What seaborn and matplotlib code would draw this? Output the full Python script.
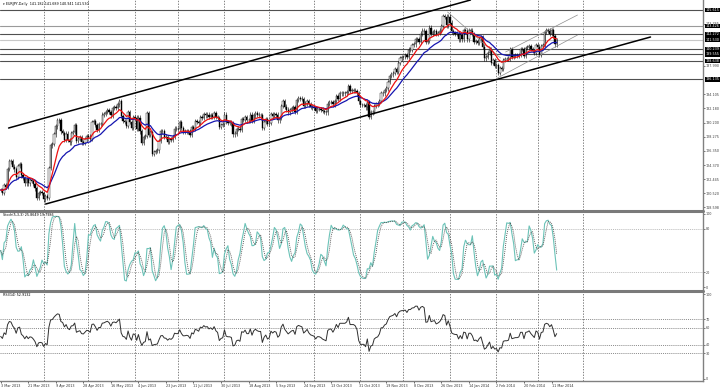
import numpy as np
import pandas as pd
import matplotlib
matplotlib.use("Agg")
import matplotlib.pyplot as plt
import matplotlib.transforms as mtransforms
from matplotlib.lines import Line2D
import seaborn as sns

# EURJPY daily closes, one row per week (Sun, Mon, Tue, Wed, Thu, Fri), 3 Mar 2013 .. 14 Mar 2014
weekly_closes = [
    [121.0, 120.6, 121.7, 121.4, 123.9, 125.0],
    [124.9, 124.2, 123.8, 122.8, 124.3, 124.5],
    [123.0, 122.6, 121.9, 122.5, 121.9, 122.3],
    [122.2, 121.8, 121.2, 119.9, 120.6, 120.7],
    [120.6, 119.7, 120.2, 119.9, 124.0, 127.1],
    [127.3, 128.6, 129.7, 130.6, 130.5, 129.0],
    [128.8, 127.8, 128.7, 127.8, 127.5, 128.8],
    [128.9, 129.9, 127.7, 128.0, 128.2, 127.5],
    [127.4, 127.9, 128.4, 128.3, 128.0, 130.3],
    [130.4, 129.9, 129.2, 130.0, 130.0, 131.3],
    [131.4, 131.7, 131.9, 131.7, 131.2, 132.2],
    [132.3, 132.2, 132.7, 133.2, 131.1, 130.4],
    [130.3, 129.8, 131.6, 130.3, 129.5, 131.0],
    [130.9, 129.4, 130.9, 129.0, 127.4, 128.2],
    [128.4, 131.5, 128.5, 128.9, 125.9, 126.2],
    [126.3, 126.4, 127.7, 129.0, 129.1, 128.3],
    [128.2, 127.6, 128.0, 127.8, 128.2, 129.4],
    [129.3, 129.3, 130.3, 129.5, 129.0, 129.0],
    [129.1, 129.0, 128.5, 129.6, 129.4, 130.4],
    [130.3, 130.1, 131.0, 130.9, 131.4, 131.2],
    [131.3, 131.0, 131.2, 131.0, 131.5, 131.0],
    [130.8, 129.6, 129.9, 130.0, 131.3, 130.3],
    [130.2, 130.2, 130.1, 128.6, 128.7, 129.3],
    [129.4, 129.2, 130.7, 130.6, 131.0, 130.5],
    [130.5, 131.3, 130.4, 131.2, 131.5, 131.3],
    [131.2, 131.2, 129.5, 130.3, 130.7, 130.0],
    [130.2, 131.4, 131.1, 131.4, 131.3, 130.5],
    [130.8, 132.5, 133.2, 132.4, 132.0, 131.6],
    [131.9, 132.2, 132.3, 131.7, 133.3, 133.6],
    [133.5, 133.4, 132.5, 132.8, 133.2, 132.7],
    [132.4, 132.3, 132.2, 131.8, 132.1, 132.1],
    [132.0, 131.8, 131.7, 131.6, 132.8, 133.0],
    [133.0, 132.7, 133.1, 133.8, 133.5, 134.2],
    [134.2, 134.2, 134.2, 134.4, 135.2, 134.6],
    [134.6, 134.6, 134.5, 134.2, 133.1, 132.6],
    [132.6, 132.6, 132.3, 133.0, 131.0, 131.6],
    [131.7, 132.5, 132.7, 132.8, 133.2, 134.2],
    [134.2, 134.7, 134.9, 135.8, 136.6, 136.8],
    [137.0, 137.5, 137.2, 138.4, 139.0, 139.2],
    [139.2, 139.4, 139.2, 140.2, 140.2, 140.8],
    [140.9, 141.6, 141.6, 141.3, 142.4, 142.8],
    [142.7, 141.3, 141.4, 143.2, 142.4, 142.6],
    [142.7, 142.3, 142.5, 142.8, 143.4, 144.8],
    [144.7, 143.5, 144.7, 143.9, 142.7, 142.5],
    [142.4, 142.4, 141.6, 142.2, 141.6, 142.9],
    [142.8, 141.6, 142.8, 142.8, 142.3, 141.3],
    [141.4, 141.1, 141.6, 141.9, 140.6, 139.0],
    [139.2, 139.7, 140.2, 138.4, 138.8, 138.0],
    [138.1, 137.0, 137.7, 137.6, 138.8, 138.9],
    [138.9, 139.0, 140.3, 139.2, 139.3, 139.4],
    [139.4, 139.5, 140.3, 140.3, 139.3, 140.4],
    [140.5, 140.7, 140.3, 140.0, 139.7, 140.8],
    [140.6, 139.5, 140.7, 140.8, 142.6, 142.9],
    [142.8, 142.4, 142.9, 142.1, 140.9, 141.53],
]

date_labels = ["3 Mar 2013", "21 Mar 2013", "9 Apr 2013", "28 Apr 2013", "16 May 2013",
               "4 Jun 2013", "23 Jun 2013", "11 Jul 2013", "30 Jul 2013", "18 Aug 2013",
               "5 Sep 2013", "24 Sep 2013", "13 Oct 2013", "31 Oct 2013", "19 Nov 2013",
               "8 Dec 2013", "26 Dec 2013", "14 Jan 2014", "2 Feb 2014", "20 Feb 2014",
               "11 Mar 2014"]
month_start_bars = [25, 51, 78, 103, 130, 156, 182, 209, 234, 261, 288, 312, 338]

price_ticks = [118.598, 120.520, 122.445, 124.370, 126.350, 128.275, 130.200,
               132.180, 134.105, 137.990, 143.765]
level_prices = [145.615, 143.426, 142.272, 141.530, 140.239, 139.555, 138.638, 136.135]
level_labels = ["145.615", "143.426", "142.272", "141.530", "140.239", "139.555",
                "138.638", "136.135"]

# trend lines: (bar, price) anchors
channel_lines = [((4.6, 129.47), (272.9, 146.98)),
                 ((26.1, 119.07), (377.5, 141.92))]
thin_lines = [((259.6, 145.34), (290.4, 139.05)),
              ((293.3, 139.87), (335.1, 144.93)),
              ((288.6, 136.31), (335.1, 142.19))]

stoch_levels = [80, 20]
rsi_levels = [70, 60, 40, 30]

closes = np.array([c for wk in weekly_closes for c in wk])
bars = np.arange(len(closes))
opens = np.r_[closes[0], closes[:-1]]
wick = 0.3
highs = np.maximum(opens, closes) + wick
lows = np.minimum(opens, closes) - wick

s_close = pd.Series(closes)
ma_fast = s_close.ewm(span=10, adjust=False).mean()
ma_slow = s_close.ewm(span=21, adjust=False).mean()

# Stochastic 5,3,3
hh = pd.Series(highs).rolling(5, min_periods=1).max()
ll = pd.Series(lows).rolling(5, min_periods=1).min()
k_line = 100 * (s_close - ll).rolling(3, min_periods=1).sum() / (hh - ll).rolling(3, min_periods=1).sum()
d_line = k_line.rolling(3, min_periods=1).mean()

# RSI 14, Wilder smoothing, seeded neutral
avg_g, avg_l = 0.3, 0.3
rsi = [50.0]
for dlt in np.diff(closes):
    avg_g = (avg_g * 13 + max(dlt, 0)) / 14
    avg_l = (avg_l * 13 + max(-dlt, 0)) / 14
    rsi.append(100 - 100 / (1 + avg_g / avg_l))
rsi = np.array(rsi)

sns.set_theme(style="white")
plt.rcParams['font.family'] = ['DejaVu Sans']

W, H = 720, 389
fig = plt.figure(figsize=(W / 100, H / 100), dpi=100)
fig.patch.set_facecolor('white')
ax_main = fig.add_axes([0, 1 - 210 / H, 703 / W, 210 / H])
ax_st = fig.add_axes([0, 1 - 290 / H, 703 / W, 78 / H])
ax_rsi = fig.add_axes([0, 1 - 381 / H, 703 / W, 89 / H])

fs = 2.4
grid_kw = dict(color='#505050', lw=0.5, linestyle=(0, (2, 2)), zorder=0)
for ax in (ax_main, ax_st, ax_rsi):
    ax.set_facecolor('white')
    ax.set_xlim(-0.4, 408)
    for sp in ('top', 'left', 'bottom'):
        ax.spines[sp].set_visible(False)
    ax.spines['right'].set_color('#808080')
    ax.spines['right'].set_linewidth(1.0)
    for b in month_start_bars:
        ax.axvline(b, **grid_kw)
    ax.yaxis.tick_right()
    ax.tick_params(axis='y', length=1.5, width=0.5, pad=0.6, labelsize=fs,
                   colors='#404040', direction='out')
    ax.set_xticks([])

# ---- main price panel ----
ax_main.set_ylim(118.255, 146.983)
ax_main.set_yticks(price_ticks)
ax_main.set_yticklabels([f"{p:.3f}" for p in price_ticks])
lbl_tr = mtransforms.blended_transform_factory(ax_main.transAxes, ax_main.transData)
for p, lab in zip(level_prices, level_labels):
    col = '#c8c8c8' if lab == "141.530" else ('#9a9a9a' if lab == "143.426" else '#505050')
    ax_main.axhline(p, color=col, lw=0.8, zorder=1)
    ax_main.text(1.0035, p, lab, transform=lbl_tr, fontsize=fs, color='white',
                 va='center', ha='left', clip_on=False, zorder=6,
                 bbox=dict(boxstyle='square,pad=0.12', fc='black', ec='none'))

for (b0, p0), (b1, p1) in channel_lines:
    ax_main.plot([b0, b1], [p0, p1], color='black', lw=1.1, zorder=4)
for (b0, p0), (b1, p1) in thin_lines:
    ax_main.plot([b0, b1], [p0, p1], color='#8c8c8c', lw=0.5, zorder=4)

up = closes >= opens
ax_main.vlines(bars, lows, highs, color='black', lw=0.4, zorder=2)
ax_main.bar(bars, np.maximum(np.abs(closes - opens), 0.03), bottom=np.minimum(opens, closes),
            width=0.75, color=np.where(up, 'white', 'black'), edgecolor='black',
            linewidth=0.3, zorder=3)
sns.lineplot(x=bars, y=ma_slow.values, ax=ax_main, color='#1515b0', lw=0.9, zorder=4)
sns.lineplot(x=bars, y=ma_fast.values, ax=ax_main, color='#ee1111', lw=0.9, zorder=4)
ax_main.set_ylabel('')
ax_main.text(0.004, 0.99, "\u25be EURJPY,Daily  141.182 141.689 140.941 141.530",
             transform=ax_main.transAxes, fontsize=fs, va='top', ha='left', color='black')

# ---- stochastic panel ----
ax_st.set_ylim(-4.1, 102.7)
ax_st.set_yticks([0, 20, 80, 100])
for lv in stoch_levels:
    ax_st.axhline(lv, color='#a0a0a0', lw=0.5, linestyle=(0, (1.5, 1.5)), zorder=1)
sns.lineplot(x=bars, y=k_line.values, ax=ax_st, color='#6cc3b8', lw=0.8, zorder=3)
sns.lineplot(x=bars, y=d_line.values, ax=ax_st, color='#505050', lw=0.6,
             linestyle=(0, (1.2, 1.2)), zorder=3)
ax_st.set_ylabel('')
ax_st.text(0.004, 0.985, "Stoch(5,3,3) 25.8649 19.7986", transform=ax_st.transAxes,
           fontsize=fs, va='top', ha='left', color='black')

# ---- RSI panel ----
ax_rsi.set_ylim(-2.7, 102.4)
ax_rsi.set_yticks([0, 30, 40, 60, 70, 100])
for lv in rsi_levels:
    ax_rsi.axhline(lv, color='#606060', lw=0.5, linestyle=(0, (1.5, 1.5)), zorder=1)
sns.lineplot(x=bars, y=rsi, ax=ax_rsi, color='#303030', lw=0.7, zorder=3)
ax_rsi.set_ylabel('')
ax_rsi.text(0.004, 0.985, "RSI(14) 52.9132", transform=ax_rsi.transAxes,
            fontsize=fs, va='top', ha='left', color='black')
ax_rsi.spines['bottom'].set_visible(True)
ax_rsi.spines['bottom'].set_color('#808080')
ax_rsi.spines['bottom'].set_linewidth(1.0)
ax_rsi.set_xticks(np.arange(len(date_labels)) * 16)
ax_rsi.set_xticklabels(date_labels, fontsize=fs, color='#303030', ha='left')
ax_rsi.tick_params(axis='x', length=1.5, width=0.5, pad=0.8, bottom=True)

# panel separators
for y in (211, 291):
    fig.add_artist(Line2D([0, 703 / W], [1 - y / H, 1 - y / H], transform=fig.transFigure,
                          color='#7a7a7a', lw=2.2))

fig.savefig('out.png', dpi=100, facecolor='white')
